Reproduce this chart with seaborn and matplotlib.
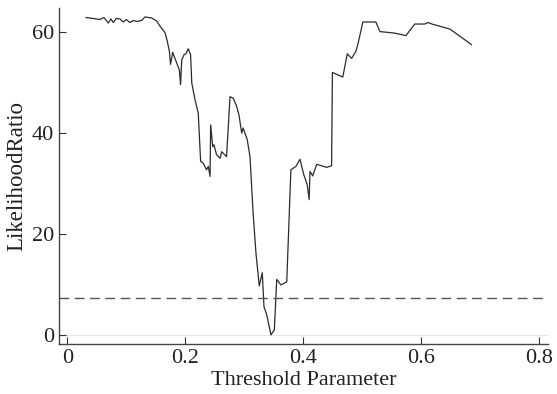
import matplotlib
matplotlib.use('Agg')
import matplotlib.pyplot as plt
import seaborn as sns
import pandas as pd

threshold = [0.0317, 0.0554, 0.062, 0.0695, 0.074, 0.078, 0.083, 0.0893, 0.095, 0.100,
             0.106, 0.112, 0.118, 0.126, 0.1317, 0.143, 0.1515, 0.157, 0.1656, 0.1695,
             0.173, 0.175, 0.1786, 0.1854, 0.190, 0.192, 0.194, 0.1978, 0.201, 0.205,
             0.209, 0.211, 0.2165, 0.222, 0.226, 0.2305, 0.236, 0.239, 0.242, 0.243,
             0.2465, 0.2486, 0.253, 0.259, 0.2617, 0.270, 0.2758, 0.2814, 0.287, 0.291,
             0.2956, 0.298, 0.305, 0.3097, 0.315, 0.3198, 0.3254, 0.3305, 0.3334, 0.338,
             0.3453, 0.351, 0.355, 0.362, 0.372, 0.379, 0.3876, 0.3944, 0.401, 0.4068,
             0.410, 0.4114, 0.416, 0.4227, 0.4397, 0.448, 0.4494, 0.467, 0.4746, 0.482,
             0.4893, 0.493, 0.501, 0.523, 0.530, 0.555, 0.574, 0.589, 0.606, 0.612,
             0.618, 0.6486, 0.6854]
likelihood = [62.9, 62.5, 62.9, 61.8, 62.6, 61.9, 62.7, 62.6, 62.0, 62.5,
              61.9, 62.3, 62.1, 62.3, 63.0, 62.8, 62.2, 61.2, 59.9, 58.2,
              56.2, 53.6, 56.0, 53.9, 52.5, 49.6, 54.5, 55.5, 55.7, 56.7,
              55.5, 49.9, 46.6, 43.9, 34.4, 34.0, 32.7, 33.4, 31.4, 41.6,
              37.3, 37.7, 35.7, 35.0, 36.3, 35.3, 47.2, 46.9, 45.3, 43.6,
              40.0, 41.0, 38.7, 35.3, 24.1, 16.2, 9.7, 12.3, 5.6, 4.0,
              0.0, 1.0, 11.0, 9.9, 10.5, 32.7, 33.4, 34.8, 31.7, 29.7,
              26.8, 32.4, 31.5, 33.8, 33.2, 33.5, 52.0, 51.1, 55.7, 54.8,
              56.2, 57.8, 62.0, 62.0, 60.1, 59.8, 59.3, 61.6, 61.6, 61.9,
              61.6, 60.6, 57.5]
reference_level = 7.3

df = pd.DataFrame({'threshold': threshold, 'likelihood': likelihood})

sns.set_style('ticks')
plt.rcParams['font.family'] = ['Liberation Serif', 'DejaVu Serif']

fig = plt.figure(figsize=(5.57, 3.94), dpi=100)
ax = fig.add_axes([0.106, 0.127, 0.878, 0.853])

ax.axhline(0, color='#e6e6e6', lw=0.8, zorder=0)
sns.lineplot(data=df, x='threshold', y='likelihood', ax=ax, color='#2b2b2b', lw=0.9)
ax.axhline(reference_level, color='#555555', lw=1.0, ls=(0, (7, 4)))

ax.set_xlim(-0.014, 0.815)
ax.set_ylim(-1.8, 64.8)
ax.set_xticks([0, 0.2, 0.4, 0.6, 0.8])
ax.set_xticklabels(['0', '0.2', '0.4', '0.6', '0.8'])
ax.set_yticks([0, 20, 40, 60])
ax.tick_params(direction='in', length=5, width=0.8, labelsize=16, colors='#333333',
               labelcolor='#222222')
ax.set_xlabel('Threshold Parameter', fontsize=16, color='#222222', labelpad=2)
ax.set_ylabel('LikelihoodRatio', fontsize=16.5, color='#222222', labelpad=3)
sns.despine(ax=ax)
for side in ['left', 'bottom']:
    ax.spines[side].set_color('#444444')
    ax.spines[side].set_linewidth(1.0)

plt.savefig('out.png', dpi=100)
